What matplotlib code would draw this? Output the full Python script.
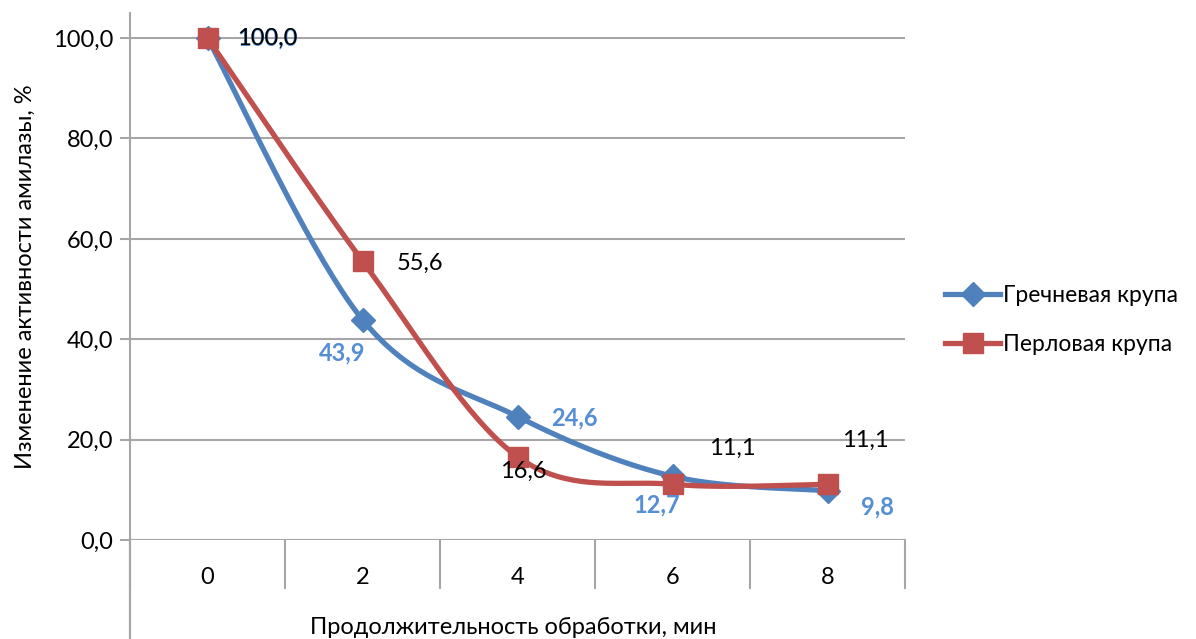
import numpy as np
import matplotlib.pyplot as plt
from matplotlib.lines import Line2D

plt.rcParams['font.family'] = ['Lato', 'DejaVu Sans']

categories = ['0', '2', '4', '6', '8']
buckwheat = [100.0, 43.9, 24.6, 12.7, 9.8]
barley = [100.0, 55.6, 16.6, 11.1, 11.1]
y_ticks = [0, 20, 40, 60, 80, 100]
y_tick_labels = ['0,0', '20,0', '40,0', '60,0', '80,0', '100,0']

BLUE = '#4F81BD'
RED = '#C0504D'
LABEL_BLUE = '#558ED5'
GRID = '#A6A6A6'
FS = 17


def smooth(ax, xs, ys, n=40):
    # Bezier smoothing in screen space, like office charts do it
    pts = ax.transData.transform(np.column_stack([xs, ys]))
    ext = np.vstack([pts[0], pts, pts[-1]])
    out = []
    for i in range(len(pts) - 1):
        p0, p1, p2, p3 = ext[i], ext[i + 1], ext[i + 2], ext[i + 3]
        c1 = p1 + (p2 - p0) / 6
        c2 = p2 - (p3 - p1) / 6
        t = np.linspace(0, 1, n)[:, None]
        seg = ((1 - t) ** 3) * p1 + 3 * ((1 - t) ** 2) * t * c1 + 3 * (1 - t) * t ** 2 * c2 + t ** 3 * p2
        out.append(seg if i == 0 else seg[1:])
    out = ax.transData.inverted().transform(np.vstack(out))
    return out[:, 0], out[:, 1]


fig = plt.figure(figsize=(11.96, 6.39), dpi=100)
ax = fig.add_axes([130 / 1196, 99 / 639, 775 / 1196, 527 / 639])
ax.set_xlim(-0.5, 4.5)
ax.set_ylim(0, 105)

for s in ['top', 'right', 'bottom']:
    ax.spines[s].set_visible(False)
ax.spines['left'].set_color(GRID)
ax.spines['left'].set_linewidth(1.5)
ax.spines['left'].set_bounds(-0.188 * 105, 105)

ax.set_yticks(y_ticks)
ax.set_yticklabels(y_tick_labels, fontsize=FS)
ax.tick_params(axis='y', length=7, width=1.5, color=GRID, pad=5)
ax.set_xticks([])
for v in y_ticks:
    ax.axhline(v, color=GRID, lw=1.5, zorder=1)

# category box under the plot
xt = ax.get_xaxis_transform()
for b in np.arange(-0.5, 5, 1.0):
    ax.plot([b, b], [0, -48 / 527], color=GRID, lw=1.5, transform=xt, clip_on=False)
ax.plot([-0.5, -0.5], [0, -0.2], color=GRID, lw=1.5, transform=xt, clip_on=False)
for i, c in enumerate(categories):
    ax.text(i, -38 / 527, c, transform=xt, ha='center', va='center', fontsize=FS)

fig.canvas.draw()
x = np.arange(len(categories))
bx, by = smooth(ax, x, buckwheat)
rx, ry = smooth(ax, x, barley)
ax.plot(bx, by, color=BLUE, lw=3.8, zorder=3, solid_capstyle='round')
ax.plot(x, buckwheat, ls='none', marker='D', ms=12, color=BLUE, zorder=4)
ax.plot(rx, ry, color=RED, lw=3.8, zorder=5, solid_capstyle='round')
ax.plot(x, barley, ls='none', marker='s', ms=14, color=RED, zorder=6)

# data labels
blue_off = [(60, 0), (-20, -33), (57, -1), (-16, -29), (50, -16)]
red_off = [(60, 0), (57, -2), (6, -15), (60, 36), (38, 44)]
for i, v in enumerate(buckwheat):
    ax.annotate(f'{v:.1f}'.replace('.', ','), (i, v), xytext=blue_off[i], textcoords='offset pixels',
                ha='center', va='center', fontsize=FS, fontweight='bold', color=LABEL_BLUE, zorder=7)
for i, v in enumerate(barley):
    ax.annotate(f'{v:.1f}'.replace('.', ','), (i, v), xytext=red_off[i], textcoords='offset pixels',
                ha='center', va='center', fontsize=FS, color='black', zorder=8)

ax.set_ylabel('Изменение активности амилазы, %', fontsize=FS, labelpad=12)
fig.text(513 / 1196, 1 - 627 / 639, 'Продолжительность обработки, мин', ha='center', va='center', fontsize=FS)

handles = [Line2D([], [], color=BLUE, lw=3.8, marker='D', ms=12),
           Line2D([], [], color=RED, lw=3.8, marker='s', ms=14)]
fig.legend(handles, ['Гречневая крупа', 'Перловая крупа'], loc='center left',
           bbox_to_anchor=(945 / 1196, 1 - 320 / 639), frameon=False, fontsize=16.5,
           borderpad=0, borderaxespad=0, handlelength=2.4, handletextpad=0.15, labelspacing=1.2)

fig.savefig('out.png', dpi=100)
